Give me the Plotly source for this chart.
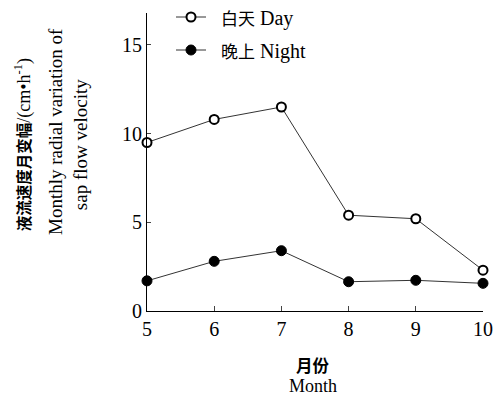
import plotly.graph_objects as go

months = [5, 6, 7, 8, 9, 10]
day = [9.5, 10.8, 11.5, 5.4, 5.2, 2.3]
night = [1.7, 2.8, 3.4, 1.65, 1.73, 1.56]
x_ticks = [5, 6, 7, 8, 9, 10]
y_ticks = [0, 5, 10, 15]

SERIF = "Liberation Serif, Times New Roman, serif"
CJK = "Noto Sans CJK SC"
MIX = "Liberation Serif, Noto Sans CJK SC, serif"

W, H = 499, 396

fig = go.Figure()
fig.add_trace(go.Scatter(
    x=months, y=day, mode="lines+markers",
    name="&nbsp;&nbsp;<span style='font-size:17px'>白天</span> Day",
    line=dict(color="#333333", width=1),
    marker=dict(symbol="circle", size=9, color="white", line=dict(color="black", width=2)),
    cliponaxis=False, legend="legend"))
fig.add_trace(go.Scatter(
    x=months, y=night, mode="lines+markers",
    name="&nbsp;&nbsp;<span style='font-size:17px'>晚上</span> Night",
    line=dict(color="#333333", width=1),
    marker=dict(symbol="circle", size=10, color="black", line=dict(color="black", width=1)),
    cliponaxis=False, legend="legend2"))

fig.update_layout(
    width=W, height=H,
    margin=dict(l=147, r=16, t=13, b=85, autoexpand=False),
    paper_bgcolor="white", plot_bgcolor="white",
    font=dict(family=SERIF, size=19, color="black"),
    hovermode=False,
    xaxis=dict(range=[5, 10], tickvals=x_ticks, ticks="inside", ticklen=5,
               showline=True, linecolor="black", linewidth=1, showgrid=False,
               zeroline=False, automargin=False, tickfont=dict(size=20, family=SERIF)),
    yaxis=dict(range=[0, 16.8], tickvals=y_ticks, ticks="inside", ticklen=4,
               showline=True, linecolor="black", linewidth=1, showgrid=False,
               zeroline=False, automargin=False, tickfont=dict(size=20, family=SERIF)),
    legend=dict(x=171 / W, y=1 - 17 / H, xanchor="left", yanchor="middle",
                xref="container", yref="container",
                bgcolor="rgba(0,0,0,0)", font=dict(size=20, family=MIX)),
    legend2=dict(x=171 / W, y=1 - 50 / H, xanchor="left", yanchor="middle",
                 xref="container", yref="container",
                 bgcolor="rgba(0,0,0,0)", font=dict(size=20, family=MIX)),
    showlegend=True,
)

fig.add_annotation(text="<b>液流速度月变幅</b><span style='font-size:18px'>/(cm•h<sup>-1</sup>)</span>",
                   xref="paper", yref="paper", x=-0.368, y=0.557,
                   xanchor="center", yanchor="middle", textangle=-90, showarrow=False,
                   font=dict(size=15.5, family=MIX))
fig.add_annotation(text="Monthly radial variation of", xref="paper", yref="paper",
                   x=-0.274, y=0.604, xanchor="center", yanchor="middle",
                   textangle=-90, showarrow=False, font=dict(size=19, family=SERIF))
fig.add_annotation(text="sap flow velocity", xref="paper", yref="paper",
                   x=-0.199, y=0.557, xanchor="center", yanchor="middle",
                   textangle=-90, showarrow=False, font=dict(size=19, family=SERIF))
fig.add_annotation(text="<b>月份</b>", xref="paper", yref="paper",
                   x=0.494, y=-0.18, xanchor="center", yanchor="middle",
                   showarrow=False, font=dict(size=16.5, family=CJK))
fig.add_annotation(text="Month", xref="paper", yref="paper",
                   x=0.494, y=-0.252, xanchor="center", yanchor="middle",
                   showarrow=False, font=dict(size=18, family=SERIF))

fig.write_html("out.html", config={"displayModeBar": False},
               post_script="document.body.style.margin='0';")
